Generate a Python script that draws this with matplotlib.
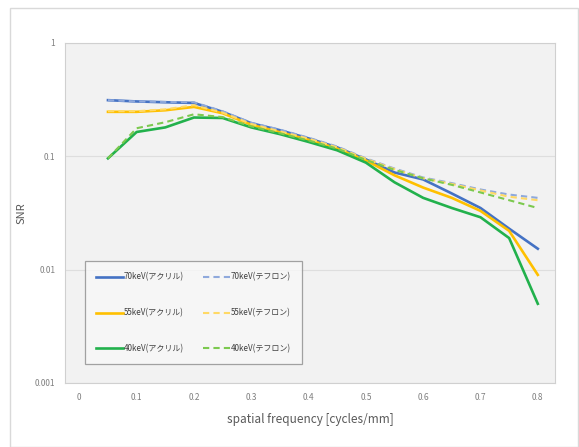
import matplotlib
matplotlib.use("Agg")
from matplotlib import pyplot as plt
from matplotlib.patches import Rectangle

plt.rcParams['font.family'] = ['Noto Sans CJK JP', 'DejaVu Sans']

freq = [0.05, 0.1, 0.15, 0.2, 0.25, 0.3, 0.35, 0.4, 0.45, 0.5, 0.55, 0.6, 0.65, 0.7, 0.75, 0.8]

# acrylic phantom
snr_70_acryl = [0.313, 0.305, 0.300, 0.296, 0.247, 0.196, 0.170, 0.144, 0.120, 0.094, 0.072, 0.0625, 0.047, 0.035, 0.023, 0.0153]
snr_55_acryl = [0.247, 0.247, 0.255, 0.273, 0.240, 0.190, 0.163, 0.140, 0.117, 0.092, 0.068, 0.053, 0.043, 0.033, 0.022, 0.009]
snr_40_acryl = [0.096, 0.164, 0.180, 0.220, 0.218, 0.180, 0.157, 0.134, 0.113, 0.088, 0.059, 0.043, 0.035, 0.029, 0.019, 0.005]

# teflon phantom
snr_70_teflon = [0.313, 0.305, 0.302, 0.300, 0.250, 0.198, 0.172, 0.146, 0.122, 0.096, 0.078, 0.065, 0.058, 0.051, 0.046, 0.043]
snr_55_teflon = [0.250, 0.250, 0.260, 0.283, 0.243, 0.193, 0.166, 0.143, 0.120, 0.095, 0.077, 0.064, 0.057, 0.050, 0.044, 0.041]
snr_40_teflon = [0.096, 0.177, 0.200, 0.235, 0.222, 0.184, 0.160, 0.138, 0.117, 0.093, 0.076, 0.064, 0.056, 0.048, 0.041, 0.035]

labels_acryl = ['70keV(アクリル)', '55keV(アクリル)', '40keV(アクリル)']
labels_teflon = ['70keV(テフロン)', '55keV(テフロン)', '40keV(テフロン)']

colors_solid = ['#4472c4', '#ffc000', '#22b14c']
colors_dash = ['#8fa9dc', '#ffd966', '#7cc94f']

fig = plt.figure(figsize=(5.79, 4.47), dpi=100)

# outer chart frame
fig.patches.append(Rectangle((10 / 579, 0), 1 - 10 / 579 - 0.002, 1 - 8 / 447,
                             transform=fig.transFigure, fill=False,
                             edgecolor='#d9d9d9', linewidth=1.0))

ax = fig.add_axes([65 / 579, 64 / 447, 490 / 579, 340 / 447])
ax.set_facecolor('#f2f2f2')
for s in ax.spines.values():
    s.set_color('#d0d0d0')
    s.set_linewidth(0.8)

for ys, c, lab in zip([snr_70_acryl, snr_55_acryl, snr_40_acryl], colors_solid, labels_acryl):
    ax.plot(freq, ys, color=c, linewidth=1.9, label=lab)
for ys, c, lab in zip([snr_70_teflon, snr_55_teflon, snr_40_teflon], colors_dash, labels_teflon):
    ax.plot(freq, ys, color=c, linewidth=1.5, linestyle=(0, (3, 2)), label=lab)

ax.set_yscale('log')
ax.set_ylim(0.001, 1)
ax.set_xlim(-0.025, 0.83)
ax.set_yticks([0.001, 0.01, 0.1, 1])
ax.set_yticklabels(['0.001', '0.01', '0.1', '1'])
ax.set_xticks([0, 0.1, 0.2, 0.3, 0.4, 0.5, 0.6, 0.7, 0.8])
ax.set_xticklabels(['0', '0.1', '0.2', '0.3', '0.4', '0.5', '0.6', '0.7', '0.8'])
ax.minorticks_off()
ax.tick_params(length=0, labelsize=6, colors='#7f7f7f', pad=7)
ax.tick_params(axis='x', pad=7)
ax.grid(axis='y', color='#dedede', linewidth=0.8)
ax.set_axisbelow(True)

ax.set_xlabel('spatial frequency [cycles/mm]', fontsize=8.5, color='#595959', labelpad=8)
ax.set_ylabel('SNR', fontsize=8, color='#595959', labelpad=6)

leg = ax.legend(ncol=2, loc='lower left', bbox_to_anchor=(0.04, 0.055),
                fontsize=5.8, frameon=True, fancybox=False, labelspacing=3.3,
                handlelength=3.4, handletextpad=0.1, columnspacing=2.3,
                borderpad=1.4, borderaxespad=0)
leg.get_frame().set_edgecolor('#8c8c8c')
leg.get_frame().set_facecolor('#f8f8f8')
leg.get_frame().set_linewidth(0.9)
for t in leg.get_texts():
    t.set_color('#404040')

plt.savefig('out.png', dpi=100)
